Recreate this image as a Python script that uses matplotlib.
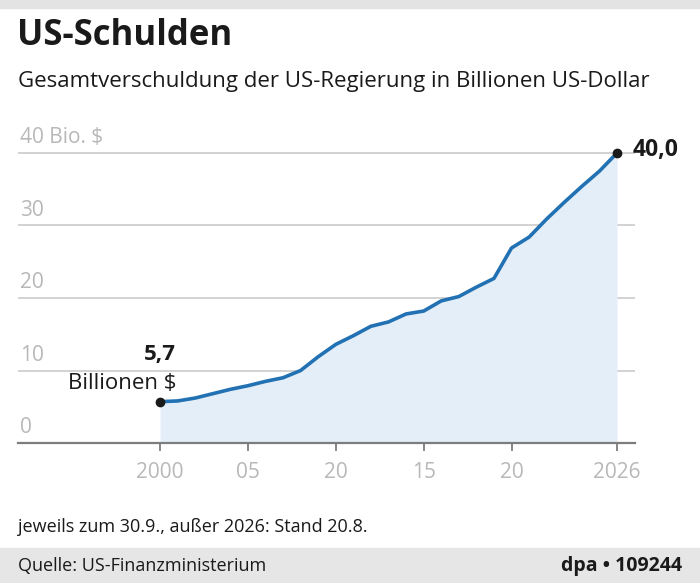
import numpy as np
import matplotlib
matplotlib.use("Agg")
import matplotlib.pyplot as plt
from matplotlib.patches import Rectangle

plt.rcParams['font.family'] = ['Open Sans', 'DejaVu Sans']

# data: total US government debt, trillion US$ (as of 30.9., 2026: 20.8.)
years = list(range(2000, 2027))
debt = [5.7, 5.8, 6.2, 6.8, 7.4, 7.9, 8.5, 9.0, 10.0, 11.9,
        13.6, 14.8, 16.1, 16.7, 17.8, 18.2, 19.6, 20.2, 21.5, 22.7,
        26.9, 28.4, 30.9, 33.2, 35.4, 37.5, 40.0]
y_ticks = [0, 10, 20, 30, 40]
y_labels = ['0', '10', '20', '30', '40 Bio. $']
x_ticks = [2000, 2005, 2010, 2015, 2020, 2026]
x_labels = ['2000', '05', '20', '15', '20', '2026']

W, H = 700, 583
fig = plt.figure(figsize=(W / 100, H / 100), dpi=100)

def fx(px):
    return px / W

def fy(py):
    return 1 - py / H

# grey bars top and bottom
fig.patches.append(Rectangle((0, fy(8)), 1, 8 / H, transform=fig.transFigure,
                             color='#e3e3e3', zorder=0))
fig.patches.append(Rectangle((0, 0), 1, (H - 548) / H, transform=fig.transFigure,
                             color='#e6e6e6', zorder=0))

# axes placed in pixel space: x 18..635, y 130..443
ax = fig.add_axes([fx(18), fy(443), fx(635 - 18), (443 - 130) / H])
px_per_year = (617 - 160) / 26
ax.set_xlim(2000 - (160 - 18) / px_per_year, 2026 + (635 - 617) / px_per_year)
ax.set_ylim(0, (443 - 130) / 7.25)
for s in ax.spines.values():
    s.set_visible(False)

grey = '#b8b8b8'
for v in y_ticks[1:]:
    ax.axhline(v, color='#d2d2d2', lw=1.4, zorder=1)
ax.axhline(0, color='#7d7d7d', lw=1.6, zorder=3, clip_on=False)

# y labels sit above their gridline on the left
for v, lab in zip(y_ticks, y_labels):
    ax.text(0.003, v + 2.1, lab, transform=ax.get_yaxis_transform(),
            ha='left', va='center', fontsize=15, color=grey)

ax.set_xticks(x_ticks)
ax.set_xticklabels(x_labels)
ax.tick_params(axis='x', direction='out', length=6, width=1.3, color='#7d7d7d',
               labelsize=15, labelcolor=grey, pad=8)
ax.set_yticks([])

ax.fill_between(years, debt, 0, color='#e3eef8', lw=0, zorder=2)
ax.plot(years, debt, color='#2271b3', lw=2.6, zorder=4, solid_capstyle='round')
ax.plot([years[0], years[-1]], [debt[0], debt[-1]], 'o', color='#1a1a1a',
        ms=6, zorder=5, clip_on=False)

ax.annotate('40,0', (years[-1], debt[-1]), xytext=(11, 2), textcoords='offset points',
            ha='left', va='center', fontsize=16.5, fontweight='bold', color='#1a1a1a')
ax.annotate('5,7', (years[0], debt[0]), xytext=(0, 34), textcoords='offset points',
            ha='center', va='center', fontsize=16, fontweight='bold', color='#1a1a1a')
ax.annotate('Billionen $', (years[0], debt[0]), xytext=(12, 13), textcoords='offset points',
            ha='right', va='center', fontsize=16, color='#1a1a1a')

# header / footer texts
fig.text(fx(17), fy(36), 'US-Schulden', ha='left', va='center',
         fontsize=25, fontweight='bold', color='#1a1a1a')
fig.text(fx(18), fy(82), 'Gesamtverschuldung der US-Regierung in Billionen US-Dollar',
         ha='left', va='center', fontsize=16, color='#1a1a1a')
fig.text(fx(18), fy(527), 'jeweils zum 30.9., außer 2026: Stand 20.8.',
         ha='left', va='center', fontsize=13, color='#1a1a1a')
fig.text(fx(18), fy(566), 'Quelle: US-Finanzministerium',
         ha='left', va='center', fontsize=13, color='#1a1a1a')
fig.text(fx(682), fy(566), 'dpa • 109244',
         ha='right', va='center', fontsize=14, fontweight='bold', color='#1a1a1a')

fig.savefig('out.png', dpi=100)
